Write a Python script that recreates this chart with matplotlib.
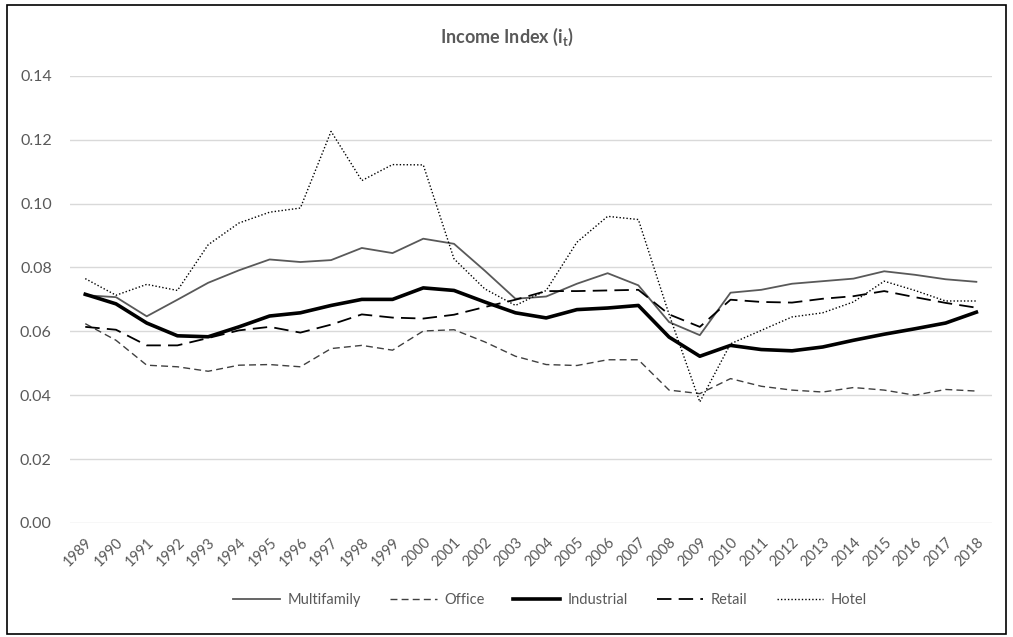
import matplotlib.pyplot as plt
from matplotlib.patches import Rectangle

# Data
years = list(range(1989, 2019))
multifamily = [0.0713, 0.0707, 0.0647, 0.0699, 0.0752, 0.0791, 0.0825, 0.0817, 0.0823, 0.0861,
               0.0845, 0.0890, 0.0874, 0.0790, 0.0702, 0.0709, 0.0749, 0.0782, 0.0744, 0.0629,
               0.0588, 0.0721, 0.0730, 0.0749, 0.0757, 0.0765, 0.0788, 0.0777, 0.0763, 0.0755]
office = [0.0624, 0.0572, 0.0494, 0.0489, 0.0475, 0.0494, 0.0496, 0.0489, 0.0546, 0.0556,
          0.0541, 0.0601, 0.0605, 0.0567, 0.0522, 0.0496, 0.0493, 0.0511, 0.0511, 0.0416,
          0.0405, 0.0452, 0.0428, 0.0416, 0.0410, 0.0424, 0.0416, 0.0400, 0.0418, 0.0413]
industrial = [0.0716, 0.0686, 0.0626, 0.0586, 0.0583, 0.0614, 0.0648, 0.0658, 0.0681, 0.0700,
              0.0700, 0.0736, 0.0728, 0.0692, 0.0658, 0.0642, 0.0668, 0.0673, 0.0681, 0.0582,
              0.0522, 0.0556, 0.0543, 0.0539, 0.0551, 0.0572, 0.0591, 0.0608, 0.0626, 0.0660]
retail = [0.0614, 0.0605, 0.0556, 0.0556, 0.0579, 0.0603, 0.0614, 0.0596, 0.0621, 0.0653,
          0.0643, 0.0640, 0.0652, 0.0676, 0.0699, 0.0726, 0.0726, 0.0728, 0.0730, 0.0653,
          0.0614, 0.0699, 0.0692, 0.0690, 0.0702, 0.0710, 0.0726, 0.0707, 0.0689, 0.0674]
hotel = [0.0765, 0.0713, 0.0747, 0.0728, 0.0871, 0.0939, 0.0973, 0.0986, 0.1226, 0.1072,
         0.1122, 0.1121, 0.0827, 0.0733, 0.0681, 0.0728, 0.0879, 0.0960, 0.0950, 0.0653,
         0.0379, 0.0561, 0.0603, 0.0645, 0.0658, 0.0692, 0.0757, 0.0728, 0.0695, 0.0695]

plt.rcParams["font.family"] = ["Lato", "DejaVu Sans"]
text_color = "#595959"

fig = plt.figure(figsize=(10.13, 6.37), dpi=100)
ax = fig.add_axes([0.069, 0.179, 0.910, 0.702])

x = list(range(len(years)))
ax.plot(x, multifamily, color="#595959", linewidth=1.3, label="Multifamily")
ax.plot(x, office, color="#404040", linewidth=1.0, linestyle=(0, (5, 3)), label="Office")
ax.plot(x, industrial, color="black", linewidth=2.6, label="Industrial")
ax.plot(x, retail, color="black", linewidth=1.3, linestyle=(0, (8, 4)), label="Retail")
ax.plot(x, hotel, color="black", linewidth=1.0, linestyle=(0, (1, 1.5)), label="Hotel")

ax.set_xlim(-0.5, len(years) - 0.5)
ax.set_ylim(0, 0.14)
ax.set_yticks([0.0, 0.02, 0.04, 0.06, 0.08, 0.10, 0.12, 0.14])
ax.set_yticklabels([f"{v:.2f}" for v in ax.get_yticks()])
ax.set_xticks(x)
ax.set_xticklabels([str(y) for y in years], rotation=45, ha="right",
                   rotation_mode="anchor")
ax.tick_params(length=0, colors=text_color)
ax.tick_params(axis="y", labelsize=11.5, pad=13)
ax.tick_params(axis="x", labelsize=10.5, pad=9)
ax.grid(axis="y", color="#d9d9d9", linewidth=1)
ax.set_axisbelow(True)
for s in ax.spines.values():
    s.set_visible(False)

fig.text(0.5, 0.942, r"Income Index (i$_\mathregular{t}$)", ha="center", va="center",
         fontsize=13, fontweight="bold", color=text_color)

fig.legend(loc="center", bbox_to_anchor=(0.543, 0.058), ncol=5, frameon=False,
           fontsize=10.5, handlelength=3.2, handletextpad=0.5, columnspacing=2.0,
           labelcolor=text_color)

fig.add_artist(Rectangle((0.007, 0.005), 0.986, 0.987, transform=fig.transFigure,
                         fill=False, edgecolor="black", linewidth=1.2))

fig.savefig("out.png", dpi=100)
